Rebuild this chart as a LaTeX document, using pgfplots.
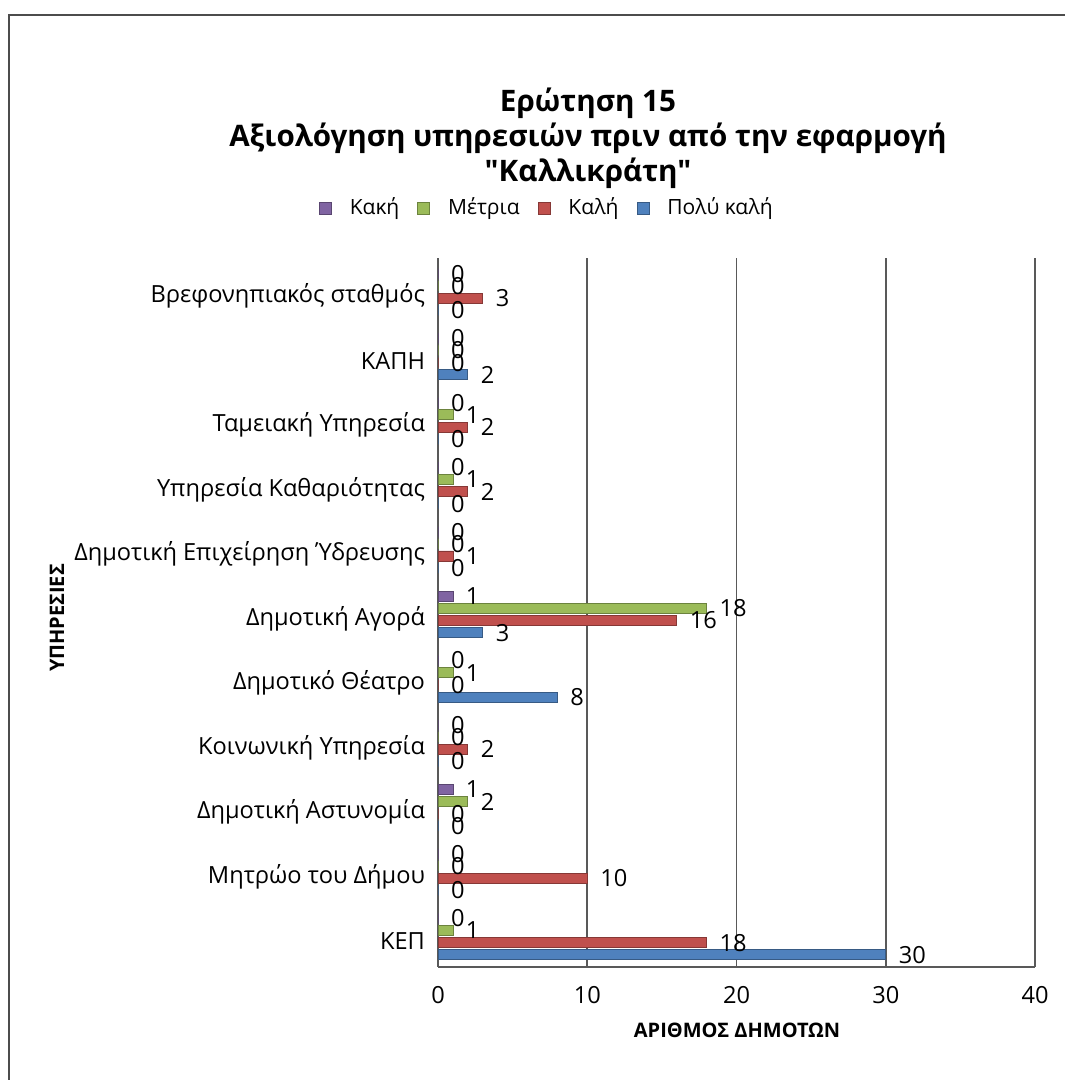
\documentclass[border=0pt]{standalone}
\usepackage{pgfplots}
\pgfplotsset{compat=1.18}
\usepackage{fontspec}
\setmainfont{Open Sans}[Ligatures=TeXOff]
\definecolor{cKaki}{HTML}{8064A2}
\definecolor{cMetria}{HTML}{9BBB59}
\definecolor{cKali}{HTML}{C0504D}
\definecolor{cPolu}{HTML}{4F81BD}
\begin{document}
\begin{tikzpicture}[x=1pt,y=1pt]
\useasboundingbox (0,0) rectangle (532,-540);
\draw[gray!60!black, line width=1pt] (4.5,-600) -- (4.5,-7.5) -- (600,-7.5);
\node[font=\bfseries\fontsize{14.8}{17.5}\selectfont, align=center] at (294,-69)
  {Ερώτηση 15\\Αξιολόγηση υπηρεσιών πριν από την εφαρμογή\\"Καλλικράτη"};
\node[font=\bfseries\fontsize{10}{12}\selectfont, rotate=90] at (28.5,-309) {ΥΠΗΡΕΣΙΕΣ};
\node[font=\bfseries\fontsize{10}{12}\selectfont] at (368.5,-515) {ΑΡΙΘΜΟΣ ΔΗΜΟΤΩΝ};
\begin{axis}[
  at={(219pt,-483.5pt)}, anchor=south west,
  scale only axis, width=298.5pt, height=354.5pt,
  xbar, bar width=5pt,
  xmin=0, xmax=40, ymin=-0.5, ymax=10.5,
  y dir=reverse,
  ytick={0,...,10},
  yticklabels={Βρεφονηπιακός σταθμός, ΚΑΠΗ, Ταμειακή Υπηρεσία, Υπηρεσία Καθαριότητας, Δημοτική Επιχείρηση Ύδρευσης, Δημοτική Αγορά, Δημοτικό Θέατρο, Κοινωνική Υπηρεσία, Δημοτική Αστυνομία, Μητρώο του Δήμου, ΚΕΠ},
  xtick={0,10,20,30,40},
  major tick length=0pt,
  xmajorgrids,
  grid style={gray!70!black, line width=0.8pt},
  axis x line*=bottom, axis y line*=left,
  axis line style={-, gray!70!black, line width=0.8pt},
  /pgf/number format/assume math mode=true,
  yticklabel style={font=\fontsize{11.8}{14}\selectfont, yshift=-3pt, xshift=-3pt},
  xticklabel style={font=\fontsize{11.8}{14}\selectfont, yshift=-6pt},
  nodes near coords,
  nodes near coords align={horizontal},
  every node near coord/.append style={font=\fontsize{11.8}{14}\selectfont, text=black, anchor=west, xshift=3pt},
  legend columns=4,
  legend style={at={(0.184,1.0705)}, anchor=center, draw=none, fill=none,
    font=\fontsize{10.5}{12}\selectfont, column sep=7pt},
  legend image code/.code={\fill[#1] (0pt,-3pt) rectangle (6pt,3pt);},
]
\addplot[fill=cKaki, draw=cKaki!70!black, bar shift=8.25pt] coordinates {
(0,0) (0,1) (0,2) (0,3) (0,4) (1,5) (0,6) (0,7) (1,8) (0,9) (0,10)};
\addlegendentry{Κακή}
\addplot[fill=cMetria, draw=cMetria!70!black, bar shift=2.15pt] coordinates {
(0,0) (0,1) (1,2) (1,3) (0,4) (18,5) (1,6) (0,7) (2,8) (0,9) (1,10)};
\addlegendentry{Μέτρια}
\addplot[fill=cKali, draw=cKali!70!black, bar shift=-3.95pt] coordinates {
(3,0) (0,1) (2,2) (2,3) (1,4) (16,5) (0,6) (2,7) (0,8) (10,9) (18,10)};
\addlegendentry{Καλή}
\addplot[fill=cPolu, draw=cPolu!70!black, bar shift=-10.05pt] coordinates {
(0,0) (2,1) (0,2) (0,3) (0,4) (3,5) (8,6) (0,7) (0,8) (0,9) (30,10)};
\addlegendentry{Πολύ καλή}
\end{axis}
\end{tikzpicture}
\end{document}
